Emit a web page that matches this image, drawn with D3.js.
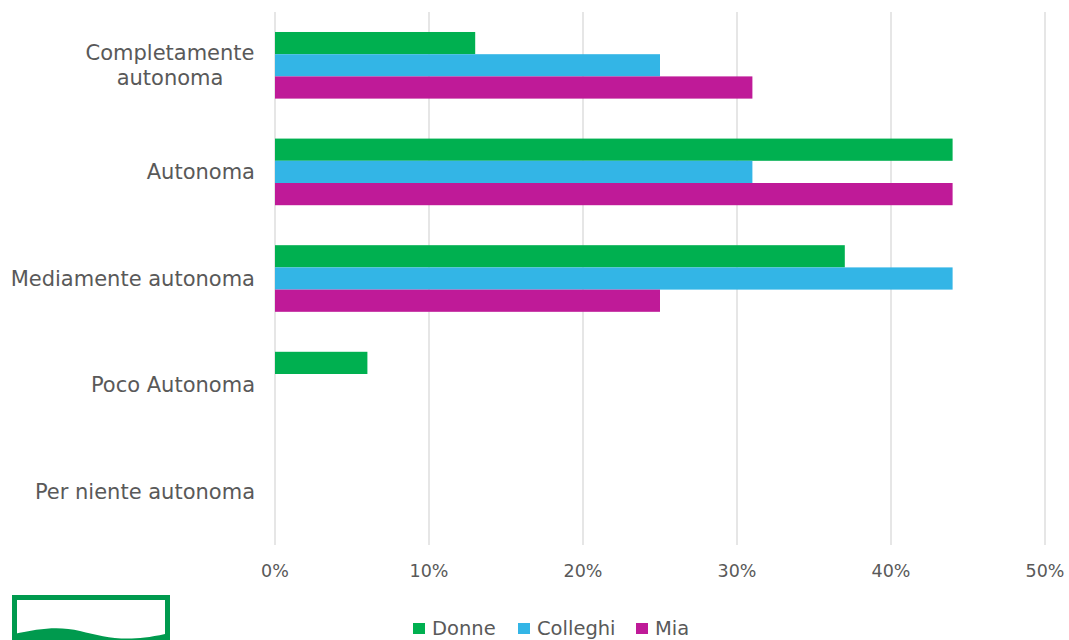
<!DOCTYPE html>
<html><head><meta charset="utf-8">
<script src="https://cdn.jsdelivr.net/npm/d3@7"></script>
<style>body{margin:0;background:#fff;} svg{display:block;}</style>
</head><body>
<svg id="c" width="1069" height="640"></svg>
<script>
const categories = ["Completamente autonoma", "Autonoma", "Mediamente autonoma", "Poco Autonoma", "Per niente autonoma"];
const categoryLines = [["Completamente", "autonoma"], ["Autonoma"], ["Mediamente autonoma"], ["Poco Autonoma"], ["Per niente autonoma"]];
const seriesNames = ["Donne", "Colleghi", "Mia"];
const donne = [13, 44, 37, 6, 0];
const colleghi = [25, 31, 44, 0, 0];
const mia = [31, 44, 25, 0, 0];
const tickValues = [0, 10, 20, 30, 40, 50];
const tickLabels = ["0%", "10%", "20%", "30%", "40%", "50%"];
const colors = ["#00b050", "#33b5e6", "#bf1a98"];

(function () {
const series = [donne, colleghi, mia];
const svg = d3.select("#c");
const font = "'DejaVu Sans', sans-serif";
const pLeft = 275, pRight = 1045, pTop = 12, pBottom = 545;

const x = d3.scaleLinear().domain([0, 50]).range([pLeft, pRight]);
const y = d3.scaleBand().domain(categories).range([pTop, pBottom]).paddingInner(0.375).paddingOuter(0.1875);
const ySub = d3.scaleBand().domain(seriesNames).range([0, y.bandwidth()]);

svg.append("g").selectAll("line").data(tickValues).join("line")
  .attr("x1", d => x(d)).attr("x2", d => x(d))
  .attr("y1", pTop).attr("y2", pBottom)
  .attr("stroke", "#d9d9d9").attr("stroke-width", 1.3);

const g = svg.append("g");
categories.forEach((c, i) => {
  seriesNames.forEach((s, j) => {
    const v = series[j][i];
    if (v > 0) {
      g.append("rect")
        .attr("x", x(0)).attr("y", y(c) + ySub(s))
        .attr("width", x(v) - x(0)).attr("height", ySub.bandwidth())
        .attr("fill", colors[j]);
    }
  });
});

categories.forEach((c, i) => {
  const lines = categoryLines[i];
  const cy = y(c) + y.bandwidth() / 2;
  const lh = 25;
  const t = svg.append("text").attr("text-anchor", lines.length > 1 ? "middle" : "end")
    .attr("font-family", font).attr("font-size", 21).attr("fill", "#595959");
  lines.forEach((l, k) => {
    t.append("tspan").attr("x", lines.length > 1 ? 170 : 255)
      .attr("y", cy + (k - (lines.length - 1) / 2) * lh + 7).text(l);
  });
});

svg.append("g").selectAll("text").data(tickValues).join("text")
  .attr("x", d => x(d)).attr("y", 577)
  .attr("text-anchor", "middle").attr("font-family", font).attr("font-size", 17.5)
  .attr("fill", "#595959").text((d, i) => tickLabels[i]);

const legend = svg.append("g");
const legX = [413, 518, 636];
seriesNames.forEach((s, j) => {
  legend.append("rect").attr("x", legX[j]).attr("y", 623).attr("width", 12).attr("height", 11).attr("fill", colors[j]);
  legend.append("text").attr("x", legX[j] + 19).attr("y", 635)
    .attr("font-family", font).attr("font-size", 19.5).attr("fill", "#595959").text(s);
});

const logo = svg.append("g");
logo.append("rect").attr("x", 14.5).attr("y", 597.5).attr("width", 153).attr("height", 50)
  .attr("fill", "none").attr("stroke", "#009a4e").attr("stroke-width", 5);
logo.append("path")
  .attr("d", "M14,634 C40,628 60,626 80,631 C105,637 125,643 165,634 L165,642 L14,642 Z")
  .attr("fill", "#009a4e");
})();
</script>
</body></html>
